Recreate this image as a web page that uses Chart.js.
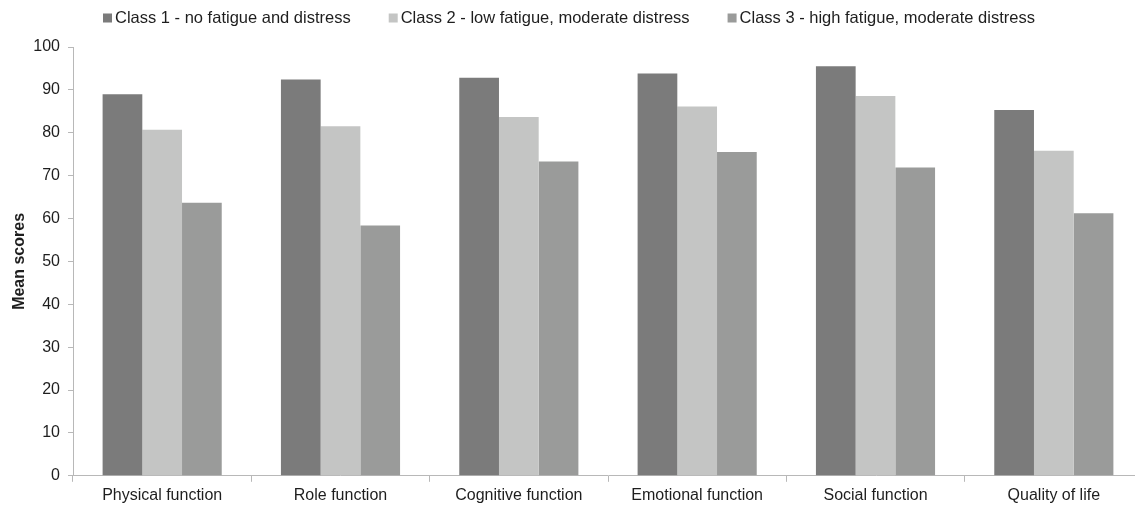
<!DOCTYPE html>
<html>
<head>
<meta charset="utf-8">
<script src="https://cdn.jsdelivr.net/npm/chart.js@4/dist/chart.umd.min.js"></script>
<style>
  html, body { margin: 0; padding: 0; background: #fff; overflow: hidden; }
  /* the original plot runs a few pixels past the right edge of the picture */
  #wrap { width: 1143px; height: 505px; position: relative; }
</style>
</head>
<body>
<div id="wrap"><canvas id="MyChart"></canvas></div>
<script>
// categories on the x axis
const categories = [
  "Physical function",
  "Role function",
  "Cognitive function",
  "Emotional function",
  "Social function",
  "Quality of life",
];
const seriesNames = [
  "Class 1 - no fatigue and distress",
  "Class 2 - low fatigue, moderate distress",
  "Class 3 - high fatigue, moderate distress",
];
// mean scores
const class1 = [89.0, 92.4, 92.8, 93.8, 95.5, 85.3];
const class2 = [80.7, 81.5, 83.7, 86.1, 88.6, 75.8];
const class3 = [63.7, 58.4, 73.3, 75.5, 71.9, 61.2];
const yTicks = [0, 10, 20, 30, 40, 50, 60, 70, 80, 90, 100];

const colors = ["#7b7b7b", "#c4c5c4", "#9a9b9a"];
const axisGrey = "#b8b8b8";
const textColor = "#1e1e1e";
const fontFamily = "'Liberation Sans', Arial, Helvetica, sans-serif";

// legend drawn by hand so it sits where the original one does
const topLegend = {
  id: "topLegend",
  afterDraw(chart) {
    const ctx = chart.ctx;
    ctx.save();
    ctx.font = "16.5px " + fontFamily;
    ctx.textBaseline = "middle";
    ctx.textAlign = "left";
    let x = chart.chartArea.left + 30;
    const y = 18;
    chart.data.datasets.forEach((ds) => {
      ctx.fillStyle = ds.backgroundColor;
      ctx.fillRect(x, y - 4.5, 9, 9);
      ctx.fillStyle = textColor;
      ctx.fillText(ds.label, x + 12, y);
      x += 12 + ctx.measureText(ds.label).width + 38;
    });
    ctx.restore();
  },
};

function createChart() {
  const data = {
    labels: categories,
    datasets: [
      { label: seriesNames[0], data: class1, backgroundColor: colors[0] },
      { label: seriesNames[1], data: class2, backgroundColor: colors[1] },
      { label: seriesNames[2], data: class3, backgroundColor: colors[2] },
    ],
  };

  const config = {
    type: "bar",
    data: data,
    plugins: [topLegend],
    options: {
      responsive: true,
      maintainAspectRatio: false,
      animation: false,
      datasets: {
        bar: {
          categoryPercentage: 0.668,
          barPercentage: 1.0,
          borderWidth: 0,
        },
      },
      layout: {
        padding: { top: 47, left: 0, right: 0, bottom: -4 },
      },
      plugins: {
        legend: { display: false },
        tooltip: { enabled: false },
      },
      scales: {
        x: {
          grid: {
            display: true,
            offset: true,
            drawOnChartArea: false,
            drawTicks: true,
            tickLength: 6,
            color: axisGrey,
          },
          border: { display: true, color: axisGrey, width: 1 },
          ticks: {
            color: textColor,
            padding: 4,
            maxRotation: 0,
            autoSkip: false,
            font: { family: fontFamily, size: 16 },
          },
        },
        y: {
          min: 0,
          max: 100,
          afterBuildTicks: (axis) => {
            axis.ticks = yTicks.map((v) => ({ value: v }));
          },
          // fixed axis width so the plot starts where the original does
          afterFit: (axis) => {
            axis.width = 73;
          },
          grid: {
            display: true,
            drawOnChartArea: false,
            drawTicks: true,
            tickLength: 5,
            color: axisGrey,
          },
          border: { display: true, color: axisGrey, width: 1 },
          ticks: {
            color: textColor,
            padding: 8,
            font: { family: fontFamily, size: 16 },
          },
          title: {
            display: true,
            text: "Mean scores",
            color: textColor,
            padding: { top: 10, bottom: 0 },
            font: { family: fontFamily, size: 16, weight: "bold" },
          },
        },
      },
    },
  };

  const myChart = new Chart(document.getElementById("MyChart"), config);
  myChart.update();
}
createChart();
</script>
</body>
</html>
